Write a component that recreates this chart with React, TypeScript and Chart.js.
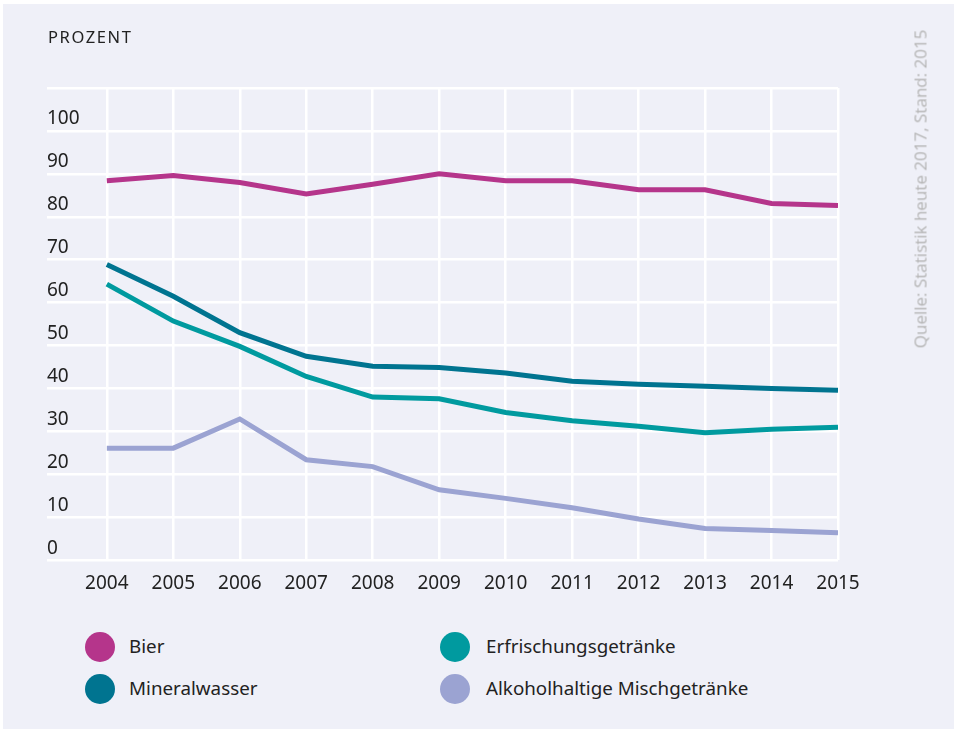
import React, { useEffect, useRef } from "react";
import { Chart, registerables } from "chart.js";

Chart.register(...registerables);

const years = [2004, 2005, 2006, 2007, 2008, 2009, 2010, 2011, 2012, 2013, 2014, 2015];
const bier = [88.4, 89.6, 88.0, 85.3, 87.6, 90.0, 88.4, 88.4, 86.3, 86.3, 83.1, 82.6];
const mineralwasser = [68.9, 61.5, 53.0, 47.5, 45.2, 44.9, 43.6, 41.7, 41.0, 40.5, 40.0, 39.6];
const erfrischung = [64.3, 55.7, 49.8, 42.8, 38.0, 37.6, 34.4, 32.5, 31.2, 29.7, 30.5, 31.0];
const alkohol = [26.1, 26.1, 32.9, 23.4, 21.8, 16.4, 14.4, 12.2, 9.6, 7.4, 6.9, 6.4];
const yTicks = [0, 10, 20, 30, 40, 50, 60, 70, 80, 90, 100, 110];

const seriesNames = ["Bier", "Mineralwasser", "Erfrischungsgetränke", "Alkoholhaltige Mischgetränke"];
const seriesColors = ["#b5358b", "#007490", "#009a9f", "#9ba3d2"];

const FONT = "'Noto Sans', sans-serif";
const TEXT = "#222222";

export default function App() {
  const ref = useRef<HTMLCanvasElement | null>(null);

  useEffect(() => {
    document.body.style.margin = "0";
    const canvas = ref.current;
    if (!canvas) return;
    const mk = (vals: number[]) => years.map((y, i) => ({ x: y, y: vals[i] }));
    const chart = new Chart(canvas, {
      type: "line",
      data: {
        datasets: [bier, mineralwasser, erfrischung, alkohol].map((vals, i) => ({
          label: seriesNames[i],
          data: mk(vals),
          borderColor: seriesColors[i],
          backgroundColor: seriesColors[i],
          borderWidth: 5,
          pointRadius: 0,
          pointHoverRadius: 0,
          tension: 0,
          fill: false,
        })),
      },
      options: {
        animation: false,
        responsive: false,
        events: [],
        layout: { padding: { left: 47, right: 116, top: 88, bottom: 0 } },
        plugins: { legend: { display: false }, tooltip: { enabled: false }, title: { display: false } },
        scales: {
          x: {
            type: "linear",
            bounds: "data",
            min: 2003.1,
            max: 2015,
            afterBuildTicks: (scale: any) => {
              scale.ticks = years.map((v) => ({ value: v }));
            },
            grid: { color: "#ffffff", lineWidth: 2.5, drawTicks: false },
            border: { display: false },
            ticks: {
              color: TEXT,
              font: { family: FONT, size: 19 },
              padding: 12,
              maxRotation: 0,
              autoSkip: false,
              callback: (v: any) => String(v),
            },
          },
          y: {
            type: "linear",
            min: 0,
            max: 110,
            afterBuildTicks: (scale: any) => {
              scale.ticks = yTicks.map((v) => ({ value: v }));
            },
            grid: { color: "#ffffff", lineWidth: 2.5, drawTicks: false },
            border: { display: false },
            ticks: {
              mirror: true,
              padding: 0,
              labelOffset: -12,
              color: TEXT,
              font: { family: FONT, size: 19 },
              callback: (v: any) => (v === 110 ? "" : String(v)),
            },
          },
        },
      },
    });
    return () => chart.destroy();
  }, []);

  const legendPos = [
    { cx: 100, tx: 129, cy: 647 },
    { cx: 100, tx: 129, cy: 689 },
    { cx: 455, tx: 486, cy: 647 },
    { cx: 455, tx: 486, cy: 689 },
  ];

  return (
    <div style={{ position: "relative", width: 954, height: 733, background: "#ffffff", overflow: "hidden" }}>
      <div style={{ position: "absolute", left: 3, top: 4, right: 0, bottom: 4, background: "#eff0f8" }} />
      <canvas ref={ref} width={954} height={607} style={{ position: "absolute", left: 0, top: 0, width: 954, height: 607 }} />
      <div
        style={{
          position: "absolute",
          left: 48,
          top: 26,
          fontFamily: FONT,
          fontSize: 16.5,
          letterSpacing: 1.6,
          color: TEXT,
          lineHeight: "22px",
        }}
      >
        PROZENT
      </div>
      <div
        style={{
          position: "absolute",
          left: 920,
          top: 189,
          transform: "translate(-50%, -50%) rotate(-90deg)",
          whiteSpace: "nowrap",
          fontFamily: "'Open Sans', sans-serif",
          fontSize: 17,
          color: "#b4b4b4",
        }}
      >
        Quelle: Statistik heute 2017, Stand: 2015
      </div>
      {seriesNames.map((name, i) => (
        <React.Fragment key={name}>
          <div
            style={{
              position: "absolute",
              left: legendPos[i].cx - 15,
              top: legendPos[i].cy - 15,
              width: 30,
              height: 30,
              borderRadius: "50%",
              background: seriesColors[i],
            }}
          />
          <div
            style={{
              position: "absolute",
              left: legendPos[i].tx,
              top: legendPos[i].cy - 14,
              fontFamily: FONT,
              fontSize: 18.8,
              lineHeight: "26px",
              color: TEXT,
              whiteSpace: "nowrap",
            }}
          >
            {name}
          </div>
        </React.Fragment>
      ))}
    </div>
  );
}
